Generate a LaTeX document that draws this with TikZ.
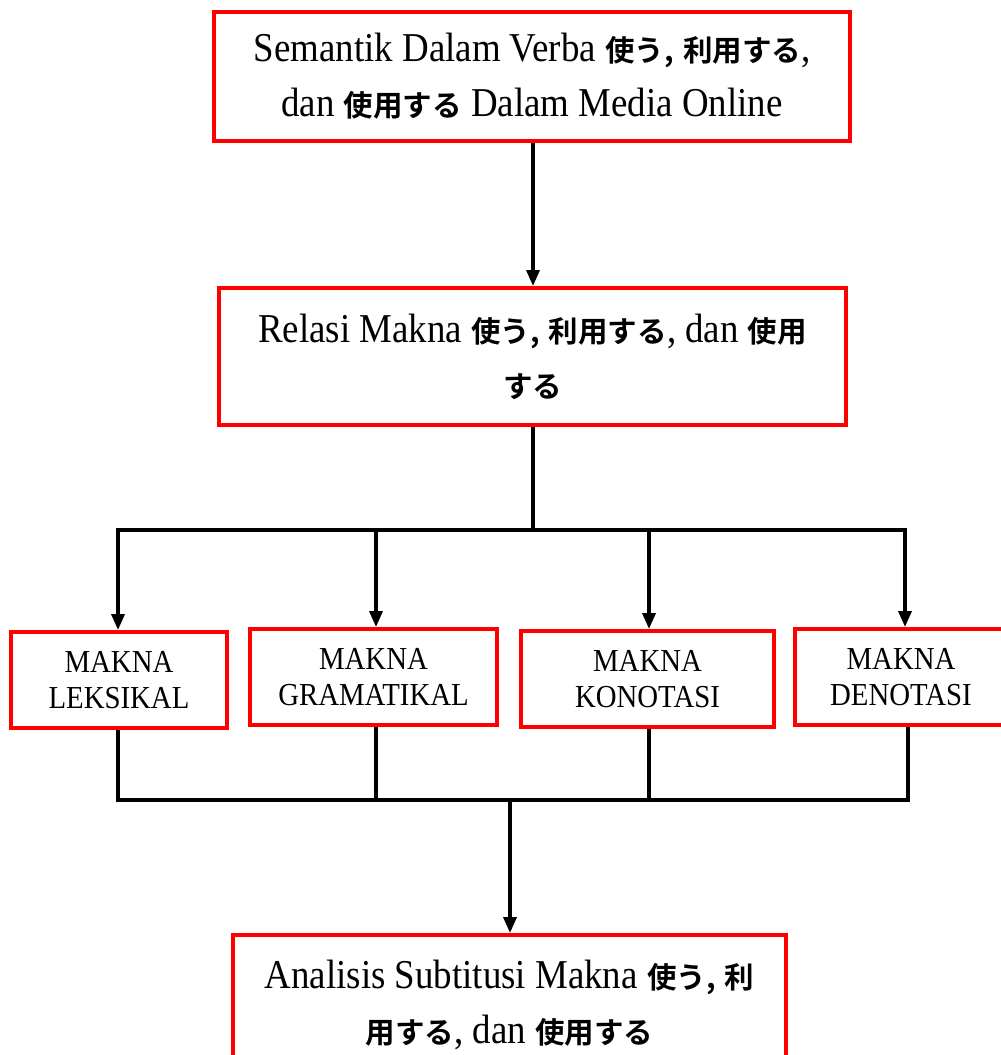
\documentclass[tikz,border=0pt]{standalone}
\usepackage{fontspec}
\setmainfont{Liberation Serif}[FakeStretch=0.9]
\newfontfamily\jpfont{Noto Sans CJK JP}[UprightFont=* Bold]
\newcommand\jpb[1]{{\jpfont\fontsize{29.5}{55}\selectfont #1}}
\usetikzlibrary{arrows.meta}
\begin{document}
\begin{tikzpicture}[x=1pt,y=-1pt,
  bigbox/.style={draw=red,line width=4pt,fill=white,align=center,inner sep=0pt,
    font=\fontsize{41}{55}\selectfont},
  smallbox/.style={draw=red,line width=4pt,fill=white,align=center,inner sep=0pt,
    minimum height=96pt,font=\fontsize{32}{36}\selectfont},
  conn/.style={line width=3.5pt},
  arr/.style={line width=3.5pt,-{Triangle[length=16pt,width=13pt]}}]
\useasboundingbox (0,0) rectangle (1001,1055);
\clip (0,0) rectangle (1001,1055);
% boxes
\node[bigbox,minimum width=636pt,minimum height=129pt] (top) at (532,76.5)
  {Semantik Dalam Verba \jpb{使う,} \jpb{利用する},\\ dan \jpb{使用する} Dalam Media Online};
\node[bigbox,minimum width=627pt,minimum height=137pt] (rel) at (532.5,356.5)
  {Relasi Makna \jpb{使う,} \jpb{利用する}, dan \jpb{使用}\\ \jpb{する}};
\node[smallbox,minimum width=216pt] (b1) at (119,680) {MAKNA\\LEKSIKAL};
\node[smallbox,minimum width=247pt] (b2) at (373.5,677) {MAKNA\\GRAMATIKAL};
\node[smallbox,minimum width=253pt] (b3) at (647.5,679) {MAKNA\\KONOTASI};
\node[smallbox,minimum width=212pt] (b4) at (901,677) {MAKNA\\DENOTASI};
\node[bigbox,minimum width=553pt,minimum height=140pt] (ana) at (509.5,1005)
  {Analisis Subtitusi Makna \jpb{使う,} \jpb{利}\\ \jpb{用する}, dan \jpb{使用する}};
% connectors
\draw[arr] (top.south -| 533,0) -- (rel.north -| 533,0);
\coordinate (bar) at (533,530);
\draw[conn] (rel.south -| bar) -- (bar);
\coordinate (t1) at (118,530);
\coordinate (t2) at (376,530);
\coordinate (t3) at (649,530);
\coordinate (t4) at (905,530);
\draw[conn] ([xshift=-1.75pt]t1) -- ([xshift=1.75pt]t4);
\draw[arr] (t1) -- (t1 |- b1.north);
\draw[arr] (t2) -- (t2 |- b2.north);
\draw[arr] (t3) -- (t3 |- b3.north);
\draw[arr] (t4) -- (t4 |- b4.north);
\coordinate (u1) at (118,800);
\coordinate (u2) at (376,800);
\coordinate (u3) at (649,800);
\coordinate (u4) at (908,800);
\coordinate (um) at (510,800);
\draw[conn] (u1 |- b1.south) -- (u1);
\draw[conn] (u2 |- b2.south) -- (u2);
\draw[conn] (u3 |- b3.south) -- (u3);
\draw[conn] (u4 |- b4.south) -- (u4);
\draw[conn] ([xshift=-1.75pt]u1) -- ([xshift=1.75pt]u4);
\draw[arr] (um) -- (um |- ana.north);
\end{tikzpicture}
\end{document}
